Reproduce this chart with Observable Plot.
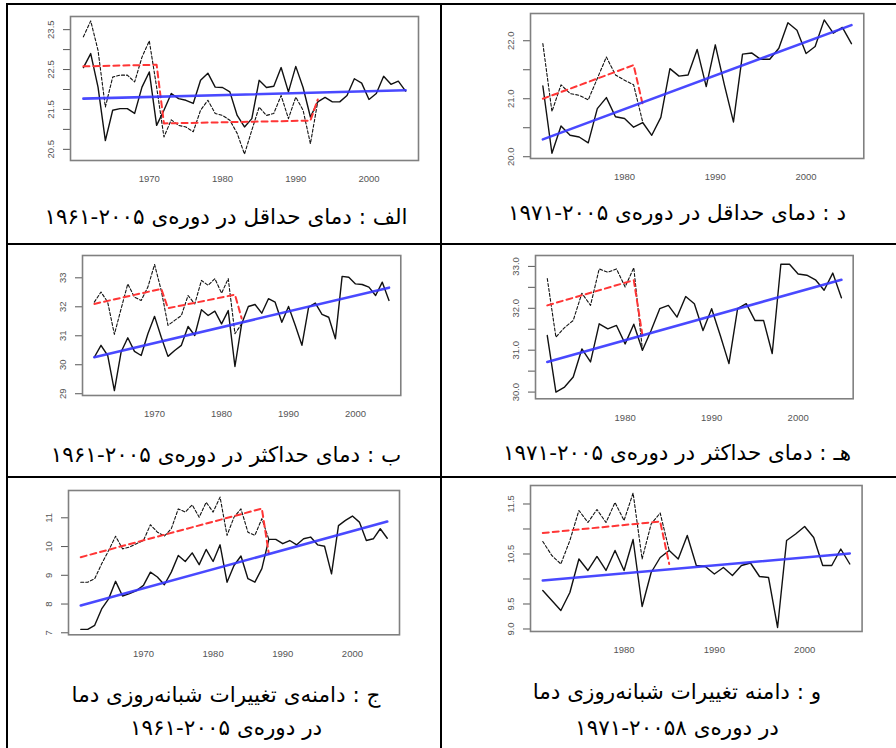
<!DOCTYPE html>
<html><head><meta charset="utf-8">
<script src="https://cdn.jsdelivr.net/npm/d3@7"></script>
<script src="https://cdn.jsdelivr.net/npm/@observablehq/plot@0.6"></script>
<style>
body{margin:0;background:#fff;}
#root{position:relative;width:896px;height:748px;overflow:hidden;background:#fff;}
.ln{position:absolute;background:#000;}
.cap{position:absolute;font-family:"DejaVu Sans",sans-serif;font-size:21.5px;line-height:26px;height:26px;text-align:center;direction:rtl;white-space:nowrap;color:#000;width:440px;}
</style></head><body><div id="root"></div><script>
// ---------- data ----------
// الف : Tmin 1961-2005
const startA = 1961;
const solidA = [22.55,22.9,22.06,20.72,21.48,21.52,21.52,21.4,22.06,22.44,21.1,21.48,21.9,21.77,21.73,21.65,22.23,22.41,22.06,22.05,21.94,21.35,21.06,21.27,22.23,22.05,22.08,22.55,21.94,22.58,22.05,21.31,21.69,21.8,21.69,21.69,21.85,22.27,22.16,21.75,21.9,22.33,22.13,22.21,21.96];
const dashedA = [23.32,23.72,22.98,21.56,22.31,22.36,22.36,22.19,22.81,23.22,22.06,20.81,21.24,21.1,21.06,20.94,21.48,21.73,21.4,21.35,21.23,20.9,20.38,20.98,21.56,21.35,21.4,21.85,21.27,21.81,21.48,20.64,21.69];
const redXA = [1961,1971,1972,1992,1993];
const redYA = [22.58,22.62,21.15,21.22,21.75];
const blueXA = [1961,2005];
const blueYA = [21.77,21.98];
const yTicksA = [20.5,21,21.5,22,22.5,23,23.5];
const yLabelsA = ["20.5","","21.5","","22.5","","23.5"];

// د : Tmin 1971-2005
const startD = 1971;
const solidD = [21.22,20.06,20.53,20.37,20.34,20.24,20.83,21.02,20.69,20.66,20.51,20.59,20.37,20.68,21.52,21.39,21.41,21.85,21.21,21.93,21.24,20.6,21.77,21.79,21.68,21.68,21.87,22.31,22.18,21.78,21.9,22.36,22.13,22.23,21.95];
const dashedD = [21.95,20.78,21.24,21.09,21.06,20.98,21.35,21.72,21.41,21.32,21.24,20.6];
const redXD = [1971,1981,1982];
const redYD = [21.0,21.58,20.9];
const blueXD = [1971,2005];
const blueYD = [20.3,22.27];
const yTicksD = [20,20.5,21,21.5,22];
const yLabelsD = ["20.0","","21.0","","22.0"];

// ب : Tmax 1961-2005
const startB = 1961;
const solidB = [30.26,30.67,30.32,29.11,30.44,30.93,30.46,30.32,31.07,31.67,30.95,30.29,30.49,30.67,31.32,31.01,31.9,31.7,31.85,31.41,31.87,29.94,31.41,32.01,32.08,31.78,32.28,32.16,31.47,32.01,31.36,30.67,31.99,32.13,31.74,31.64,30.9,33.05,33.02,32.79,32.77,32.68,32.39,32.85,32.22];
const dashedB = [32.16,32.51,32.16,31.05,31.93,32.79,32.33,32.22,32.68,33.46,32.56,31.36,31.53,31.7,32.39,32.1,32.91,32.74,32.97,32.47,32.97,31.07,31.41];
const redXB = [1961,1971,1972,1982,1983];
const redYB = [32.1,32.62,31.95,32.42,31.6];
const blueXB = [1961,2005];
const blueYB = [30.26,32.66];
const yTicksB = [29,30,31,32,33];
const yLabelsB = ["29","30","31","32","33"];

// هـ : Tmax 1971-2005
const startH = 1971;
const solidH = [31.35,30.0,30.12,30.36,31.03,30.72,31.63,31.51,31.59,31.15,31.62,31.0,31.47,31.99,32.07,31.79,32.28,32.11,31.47,31.99,31.35,30.68,31.99,32.11,31.71,31.71,30.92,33.05,33.05,32.82,32.79,32.68,32.43,32.84,32.25];
const dashedH = [32.71,31.31,31.54,31.71,32.36,32.07,32.94,32.86,32.94,32.51,32.97,31.0];
const redXH = [1971,1981,1982];
const redYH = [32.07,32.67,31.35];
const blueXH = [1971,2005];
const blueYH = [30.72,32.68];
const yTicksH = [30,30.5,31,31.5,32,32.5,33];
const yLabelsH = ["30.0","","31.0","","32.0","","33.0"];

// ج : DTR 1961-2005
const startC = 1961;
const solidC = [7.12,7.12,7.26,7.83,8.18,8.79,8.28,8.36,8.47,8.65,9.11,8.94,8.67,9.11,9.69,9.48,9.78,9.37,9.9,9.48,10.06,8.76,9.34,9.67,8.88,8.76,9.23,10.25,10.25,10.1,10.21,10.06,10.27,10.33,10.06,10.01,9.05,10.73,10.91,11.06,10.85,10.21,10.27,10.62,10.29];
const dashedC = [8.76,8.76,8.88,9.4,9.86,10.36,9.92,9.98,10.1,10.21,10.76,10.5,10.36,10.62,11.31,11.2,11.45,11.02,11.54,11.2,11.72,10.39,11.02,11.31,10.5,10.39,10.97,10.25];
const redXC = [1961,1987,1988];
const redYC = [9.63,11.32,9.75];
const blueXC = [1961,2005];
const blueYC = [7.95,10.87];
const yTicksC = [7,8,9,10,11];
const yLabelsC = ["7","8","9","10","11"];

// و : DTR 1971-2005
const startF = 1971;
const solidF = [9.77,9.57,9.37,9.73,10.4,10.17,10.45,10.17,10.57,10.17,10.79,9.45,10.13,10.43,10.57,10.4,10.87,10.27,10.25,10.1,10.23,10.07,10.27,10.32,10.05,10.03,9.03,10.77,10.9,11.05,10.83,10.27,10.27,10.6,10.3];
const dashedF = [10.75,10.47,10.3,10.77,11.37,11.13,11.39,11.13,11.53,11.17,11.72,10.4,11.1,11.32,10.57];
const redXF = [1971,1984,1985];
const redYF = [10.92,11.15,10.3];
const blueXF = [1971,2005];
const blueYF = [9.97,10.51];
const yTicksF = [9,9.5,10,10.5,11,11.5];
const yLabelsF = ["9.0","9.5","","10.5","","11.5"];

const xTicks61 = [1970,1980,1990,2000];
const xTicks71 = [1980,1990,2000];

const captionA = ["الف : دمای حداقل در دوره‌ی ۲۰۰۵-۱۹۶۱"];
const captionD = ["د : دمای حداقل در دوره‌ی ۲۰۰۵-۱۹۷۱"];
const captionB = ["ب : دمای حداکثر در دوره‌ی ۲۰۰۵-۱۹۶۱"];
const captionH = ["هـ : دمای حداکثر در دوره‌ی ۲۰۰۵-۱۹۷۱"];
const captionC = ["ج : دامنه‌ی تغییرات شبانه‌روزی دما", "در دوره‌ی ۲۰۰۵-۱۹۶۱"];
const captionF = ["و : دامنه تغییرات شبانه‌روزی دما", "در دوره‌ی ۲۰۰۵۸-۱۹۷۱"];

// ---------- layout ----------
const root = document.getElementById("root");
function line(l,t,w,h){const d=document.createElement("div");d.className="ln";Object.assign(d.style,{left:l+"px",top:t+"px",width:w+"px",height:h+"px"});root.appendChild(d);}
line(7,3,889,2);
line(6,3,2,745);
line(440,3,2,745);
line(7,243,889,2);
line(7,476,889,2);

const panels = [
  {L:70,R:418,T:16,B:160,xd:[1959.24,2006.76],yd:[20.22,23.83],start:startA,solid:solidA,dashed:dashedA,rx:redXA,ry:redYA,bx:blueXA,by:blueYA,yt:yTicksA,yl:yLabelsA,xt:xTicks61,cap:captionA,cx:226,cy:[217]},
  {L:529.7,R:863,T:13.3,B:158.3,xd:[1969.64,2006.36],yd:[19.97,22.47],start:startD,solid:solidD,dashed:dashedD,rx:redXD,ry:redYD,bx:blueXD,by:blueYD,yt:yTicksD,yl:yLabelsD,xt:xTicks71,cap:captionD,cx:677,cy:[213]},
  {L:81.7,R:400,T:255,B:395,xd:[1959.24,2006.76],yd:[28.94,33.77],start:startB,solid:solidB,dashed:dashedB,rx:redXB,ry:redYB,bx:blueXB,by:blueYB,yt:yTicksB,yl:yLabelsB,xt:xTicks61,cap:captionB,cx:226,cy:[455]},
  {L:535.3,R:853,T:255,B:398.3,xd:[1969.64,2006.36],yd:[29.84,33.26],start:startH,solid:solidH,dashed:dashedH,rx:redXH,ry:redYH,bx:blueXH,by:blueYH,yt:yTicksH,yl:yLabelsH,xt:xTicks71,cap:captionH,cx:677,cy:[453]},
  {L:68.3,R:399.3,T:490,B:634.3,xd:[1959.24,2006.76],yd:[6.93,11.95],start:startC,solid:solidC,dashed:dashedC,rx:redXC,ry:redYC,bx:blueXC,by:blueYC,yt:yTicksC,yl:yLabelsC,xt:xTicks61,cap:captionC,cx:226,cy:[695,728]},
  {L:529.7,R:861.3,T:485,B:631,xd:[1969.64,2006.36],yd:[8.95,11.87],start:startF,solid:solidF,dashed:dashedF,rx:redXF,ry:redYF,bx:blueXF,by:blueYF,yt:yTicksF,yl:yLabelsF,xt:xTicks71,cap:captionF,cx:677,cy:[692,728]}
];

for (const p of panels) {
  const mL=40, mR=8, mT=8, mB=32;
  const width = p.R-p.L+mL+mR, height = p.B-p.T+mT+mB;
  const solid = p.solid.map((v,i)=>({year:p.start+i,value:v}));
  const dashed = p.dashed.map((v,i)=>({year:p.start+i,value:v}));
  const red = p.rx.map((x,i)=>({year:x,value:p.ry[i]}));
  const blue = p.bx.map((x,i)=>({year:x,value:p.by[i]}));
  const lab = new Map(p.yt.map((t,i)=>[t,p.yl[i]]));
  const chart = Plot.plot({
    width, height, marginLeft:mL, marginRight:mR, marginTop:mT, marginBottom:mB,
    x:{domain:p.xd}, y:{domain:p.yd},
    style:{fontFamily:"'Liberation Sans', Arial, sans-serif", fontSize:"9.5px", color:"#555", background:"transparent", overflow:"visible"},
    marks:[
      Plot.axisY({ticks:p.yt, tickSize:7, tickRotate:-90, tickPadding:10, tickFormat:d=>lab.get(d) ?? "", label:null}),
      Plot.axisX({ticks:p.xt, tickSize:0, tickPadding:15, tickFormat:d=>String(d), label:null}),
      Plot.line(solid,{x:"year",y:"value",stroke:"#111",strokeWidth:1.4}),
      Plot.line(dashed,{x:"year",y:"value",stroke:"#111",strokeWidth:1.1,strokeDasharray:"3,2"}),
      Plot.line(red,{x:"year",y:"value",stroke:"#ff3535",strokeWidth:2,strokeDasharray:"6,4"}),
      Plot.line(blue,{x:"year",y:"value",stroke:"#3535ff",strokeWidth:2.6,strokeOpacity:0.9}),
      Plot.frame({stroke:"#808080",strokeWidth:1.6})
    ]
  });
  Object.assign(chart.style,{position:"absolute",left:(p.L-mL)+"px",top:(p.T-mT)+"px"});
  root.appendChild(chart);
  p.cap.forEach((txt,i)=>{
    const d=document.createElement("div");d.className="cap";d.setAttribute("dir","rtl");
    d.textContent=txt;
    Object.assign(d.style,{left:(p.cx-220)+"px",top:(p.cy[i]-13)+"px"});
    root.appendChild(d);
  });
}
</script></body></html>
